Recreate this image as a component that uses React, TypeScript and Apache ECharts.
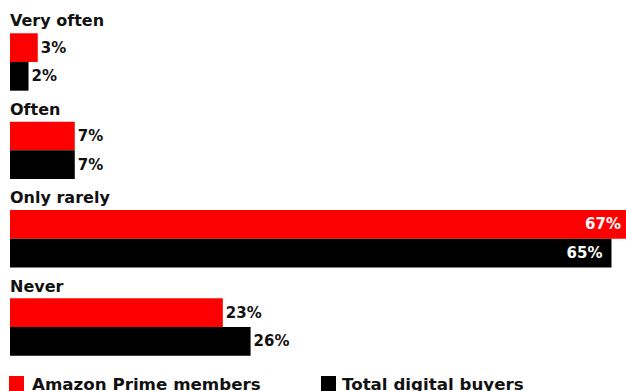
import React, { useEffect, useRef } from "react";
import * as echarts from "echarts";

const categories = ["Very often", "Often", "Only rarely", "Never"];
const seriesNames = ["Amazon Prime members", "Total digital buyers"];
const primeValues = [3, 7, 67, 23];
const totalValues = [2, 7, 65, 26];
const colors = ["#ff0000", "#000000"];
const FONT = "DejaVu Sans";

function buildData(values: number[]) {
  return values.map((v) =>
    v > 50
      ? {
          value: v,
          label: { position: "insideRight", color: "#ffffff", distance: 9 },
        }
      : { value: v }
  );
}

export default function App() {
  const ref = useRef<HTMLDivElement>(null);
  useEffect(() => {
    if (!ref.current) return;
    const chart = echarts.init(ref.current, undefined, { renderer: "svg" });
    const labelBase = {
      show: true,
      position: "right",
      distance: 3,
      formatter: "{c}%",
      fontFamily: FONT,
      fontWeight: "bold",
      fontSize: 15,
      color: "#111111",
    };
    const legendText = (padLeft: number) => ({
      fontFamily: FONT,
      fontWeight: "bold",
      fontSize: 16.7,
      color: "#111111",
      padding: [0, 0, 0, padLeft],
    });
    chart.setOption({
      animation: false,
      backgroundColor: "#ffffff",
      grid: [
        { left: 10, right: -4, top: 17.8, bottom: 19.8, containLabel: false, outerBoundsMode: "none" },
        { left: 10, right: -4, top: -23.2, bottom: 60.8, containLabel: false, outerBoundsMode: "none" },
      ],
      xAxis: [
        { type: "value", min: 0, max: 67, show: false, gridIndex: 0 },
        { type: "value", min: 0, max: 67, show: false, gridIndex: 1 },
      ],
      yAxis: [
        {
          type: "category",
          gridIndex: 0,
          data: categories,
          inverse: true,
          axisLine: { show: false },
          axisTick: { show: false },
          splitLine: { show: false },
          axisLabel: { show: false },
        },
        {
          type: "category",
          gridIndex: 1,
          data: categories,
          inverse: true,
          axisLine: { show: false },
          axisTick: { show: false },
          splitLine: { show: false },
          axisLabel: {
            inside: true,
            margin: 0,
            align: "left",
            verticalAlign: "middle",
            fontFamily: FONT,
            fontWeight: "bold",
            fontSize: 16,
            color: "#111111",
          },
        },
      ],
      legend: [
        {
          data: [seriesNames[0]],
          left: 9,
          top: 375,
          padding: 0,
          icon: "rect",
          itemWidth: 15,
          itemHeight: 15,
          textStyle: legendText(3),
        },
        {
          data: [seriesNames[1]],
          left: 321,
          top: 375,
          padding: 0,
          icon: "rect",
          itemWidth: 15,
          itemHeight: 15,
          textStyle: legendText(1),
        },
      ],
      series: [
        {
          name: seriesNames[0],
          type: "bar",
          xAxisIndex: 0,
          yAxisIndex: 0,
          data: buildData(primeValues),
          barWidth: 28.7,
          barGap: "0%",
          itemStyle: { color: colors[0] },
          label: labelBase,
        },
        {
          name: seriesNames[1],
          type: "bar",
          xAxisIndex: 0,
          yAxisIndex: 0,
          data: buildData(totalValues),
          barWidth: 28.7,
          barGap: "0%",
          itemStyle: { color: colors[1] },
          label: labelBase,
        },
      ],
    });
    return () => chart.dispose();
  }, []);
  return (
    <div
      ref={ref}
      style={{ position: "absolute", left: 0, top: 0, width: 626, height: 391 }}
    />
  );
}
